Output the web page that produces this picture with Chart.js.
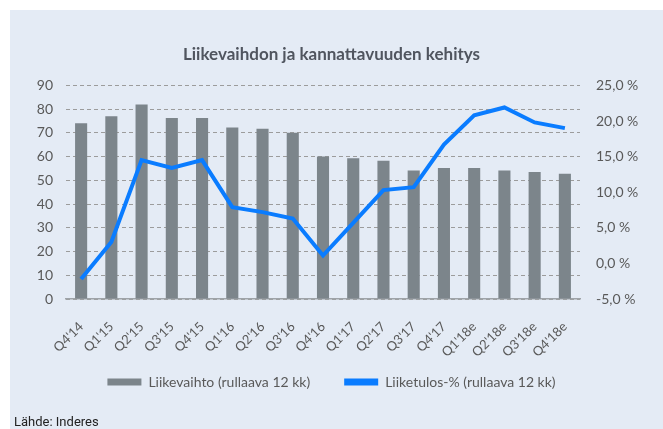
<!DOCTYPE html>
<html>
<head>
<meta charset="utf-8">
<script src="https://cdn.jsdelivr.net/npm/chart.js@4/dist/chart.umd.min.js"></script>
<style>
  html, body { margin: 0; padding: 0; background: #ffffff; width: 663px; height: 429px; overflow: hidden; }
  #panel { position: absolute; left: 10px; top: 10px; width: 653px; height: 419px; background: #e4ebf5; }
  #wrap { position: absolute; left: 0; top: 0; width: 663px; height: 429px; }
  #source { position: absolute; left: 14px; top: 414px; font-family: Roboto, "Open Sans", sans-serif; font-size: 13px; color: #222; }
</style>
</head>
<body>
<div id="panel"></div>
<div id="wrap"><canvas id="c" width="663" height="429"></canvas></div>
<div id="source">Lähde: Inderes</div>
<script>
const categories = ["Q4'14","Q1'15","Q2'15","Q3'15","Q4'15","Q1'16","Q2'16","Q3'16","Q4'16","Q1'17","Q2'17","Q3'17","Q4'17","Q1'18e","Q2'18e","Q3'18e","Q4'18e"];
const revenue = [74, 77, 82, 76.3, 76.3, 72.3, 71.7, 70, 60, 59.3, 58.2, 54.1, 55.2, 55.2, 54.1, 53.5, 52.8];
const ebitPct = [-2.2, 3.0, 14.5, 13.4, 14.5, 7.9, 7.2, 6.3, 1.1, 5.7, 10.3, 10.7, 16.7, 20.8, 21.9, 19.8, 19.0];
const leftTicks = [0, 10, 20, 30, 40, 50, 60, 70, 80, 90];
const rightTicks = [-5, 0, 5, 10, 15, 20, 25];
const titleText = "Liikevaihdon ja kannattavuuden kehitys";
const seriesNames = ["Liikevaihto (rullaava 12 kk)", "Liiketulos-% (rullaava 12 kk)"];

const tickColor = '#595959';
const fontFam = 'Lato, "Open Sans", sans-serif';

new Chart(document.getElementById('c'), {
  data: {
    labels: categories,
    datasets: [
      {
        type: 'line',
        label: seriesNames[1],
        data: ebitPct,
        yAxisID: 'y2',
        borderColor: '#0a7cff',
        backgroundColor: '#0a7cff',
        borderWidth: 4,
        pointRadius: 0,
        tension: 0,
        order: 1
      },
      {
        type: 'bar',
        label: seriesNames[0],
        data: revenue,
        yAxisID: 'y',
        backgroundColor: '#7c858b',
        borderWidth: 0,
        categoryPercentage: 1,
        barPercentage: 0.4,
        order: 2
      }
    ]
  },
  options: {
    responsive: false,
    animation: false,
    layout: { padding: { left: 0, right: 0, top: 0, bottom: 30 } },
    plugins: {
      title: {
        display: true,
        text: titleText,
        color: '#50555f',
        font: { family: fontFam, size: 17, weight: 'bold' },
        padding: { top: 44, bottom: 21 }
      },
      legend: {
        position: 'bottom',
        reverse: true,
        labels: {
          color: tickColor,
          font: { family: fontFam, size: 14 },
          boxWidth: 34,
          boxHeight: 7,
          padding: 34,
          generateLabels(chart) {
            const items = Chart.defaults.plugins.legend.labels.generateLabels(chart);
            items.forEach(it => { it.lineWidth = 0; it.strokeStyle = 'rgba(0,0,0,0)'; });
            return items;
          }
        }
      },
      tooltip: { enabled: false }
    },
    scales: {
      x: {
        grid: { display: false },
        border: { display: true, color: '#9ea3a8', width: 1.5 },
        ticks: {
          color: tickColor,
          font: { family: fontFam, size: 13 },
          minRotation: 45,
          maxRotation: 45,
          autoSkip: false,
          padding: 12
        },
        afterFit(s) {
          s.height = 42;
          s._computeLabelArea = function () { return undefined; };
        }
      },
      y: {
        position: 'left',
        min: 0, max: 90,
        afterBuildTicks(s) { s.ticks = leftTicks.map(v => ({ value: v })); },
        grid: { color: '#9c9c9c', lineWidth: 1, drawTicks: false },
        border: { display: false, dash: [4, 3] },
        ticks: { color: tickColor, font: { family: fontFam, size: 14 }, padding: 13 },
        afterFit(s) { s.width = 66; }
      },
      y2: {
        position: 'right',
        min: -5, max: 25,
        afterBuildTicks(s) { s.ticks = rightTicks.map(v => ({ value: v })); },
        grid: { display: false, drawTicks: false },
        border: { display: false },
        ticks: {
          color: tickColor,
          font: { family: fontFam, size: 14 },
          padding: 16,
          callback: v => v.toFixed(1).replace('.', ',') + ' %'
        },
        afterFit(s) { s.width = 83; }
      }
    }
  }
});
</script>
</body>
</html>
